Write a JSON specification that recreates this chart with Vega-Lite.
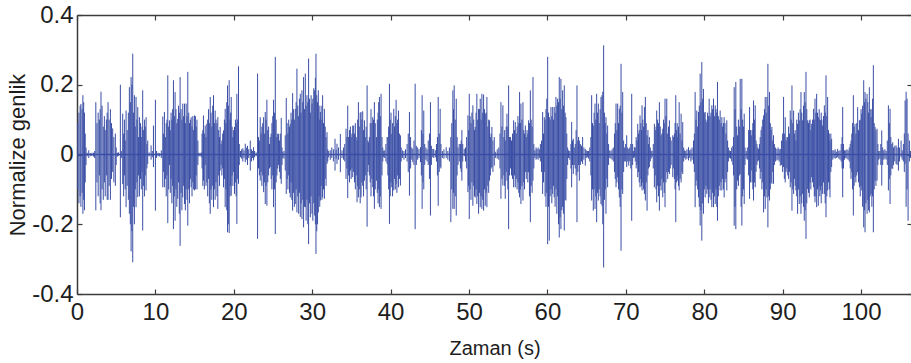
{
"$schema": "https://vega.github.io/schema/vega-lite/v6.json",
"width": 835, "height": 279,
"padding": {"left": 77, "top": 15, "right": 0, "bottom": 69},
"autosize": {"type": "none"},
"config": {"view": {"stroke": null}, "font": "Liberation Sans",
  "axis": {"grid": false, "domainColor": "#3c3c3c", "domainWidth": 1.5, "tickColor": "#3c3c3c", "tickWidth": 1.2, "tickSize": -5, "labelFontSize": 24, "labelColor": "#1e1e1e", "titleColor": "#1e1e1e", "titleFontWeight": "normal", "labelFlush": false, "labelOverlap": false}},
"datasets": {
"b": [{"t": 0, "a": 0}, {"t": 106.4, "a": 0}],
"w": [
{"t":0.1,"lo":-0.1,"hi":0.09},{"t":0.25,"lo":-0.14,"hi":0.12},{"t":0.4,"lo":-0.12,"hi":0.14},{"t":0.5,"lo":-0.15,"hi":0.145},{"t":0.65,"lo":-0.11,"hi":0.13},{"t":0.75,"lo":-0.17,"hi":0.17},{"t":0.85,"lo":-0.13,"hi":0.15},{"t":0.95,"lo":-0.16,"hi":0.12},{"t":1.05,"lo":-0.08,"hi":0.06},{"t":1.15,"lo":-0.03,"hi":0.02},
{"t":1.3,"lo":-0.005,"hi":0.005},{"t":1.5,"lo":-0.01,"hi":0.012},{"t":1.7,"lo":-0.005,"hi":0.004},{"t":1.9,"lo":-0.004,"hi":0.005},{"t":2.1,"lo":-0.006,"hi":0.005},{"t":2.25,"lo":-0.01,"hi":0.01},
{"t":2.4,"lo":-0.16,"hi":0.15},{"t":2.55,"lo":-0.08,"hi":0.09},{"t":2.7,"lo":-0.12,"hi":0.12},{"t":2.85,"lo":-0.06,"hi":0.1},{"t":2.95,"lo":-0.14,"hi":0.13},{"t":3.06,"lo":-0.16,"hi":0.18},{"t":3.2,"lo":-0.1,"hi":0.14},{"t":3.35,"lo":-0.13,"hi":0.08},{"t":3.49,"lo":-0.08,"hi":0.11},{"t":3.6,"lo":-0.12,"hi":0.07},{"t":3.75,"lo":-0.06,"hi":0.1},{"t":3.85,"lo":-0.13,"hi":0.12},{"t":3.96,"lo":-0.13,"hi":0.15},{"t":4.1,"lo":-0.09,"hi":0.1},{"t":4.26,"lo":-0.13,"hi":0.13},{"t":4.4,"lo":-0.07,"hi":0.09},{"t":4.55,"lo":-0.05,"hi":0.075},{"t":4.7,"lo":-0.08,"hi":0.05},{"t":4.89,"lo":-0.09,"hi":0.06},{"t":5.0,"lo":-0.03,"hi":0.02},
{"t":5.15,"lo":-0.006,"hi":0.005},{"t":5.3,"lo":-0.004,"hi":0.006},{"t":5.53,"lo":-0.18,"hi":0.2},{"t":5.65,"lo":-0.01,"hi":0.01},
{"t":5.83,"lo":-0.085,"hi":0.117},{"t":5.95,"lo":-0.12,"hi":0.06},{"t":6.05,"lo":-0.06,"hi":0.1},{"t":6.15,"lo":-0.1,"hi":0.04},{"t":6.26,"lo":-0.151,"hi":0.126},{"t":6.4,"lo":-0.09,"hi":0.07},{"t":6.55,"lo":-0.13,"hi":0.12},{"t":6.68,"lo":-0.17,"hi":0.193},{"t":6.8,"lo":-0.2,"hi":0.15},{"t":6.9,"lo":-0.278,"hi":0.222},{"t":7.0,"lo":-0.22,"hi":0.2},{"t":7.11,"lo":-0.309,"hi":0.289},{"t":7.2,"lo":-0.15,"hi":0.12},{"t":7.32,"lo":-0.2,"hi":0.17},{"t":7.43,"lo":-0.1,"hi":0.08},{"t":7.53,"lo":-0.151,"hi":0.165},{"t":7.65,"lo":-0.08,"hi":0.1},{"t":7.75,"lo":-0.122,"hi":0.136},{"t":7.85,"lo":-0.06,"hi":0.05},{"t":7.96,"lo":-0.12,"hi":0.107},{"t":8.1,"lo":-0.07,"hi":0.09},{"t":8.2,"lo":-0.1,"hi":0.05},{"t":8.3,"lo":-0.05,"hi":0.08},{"t":8.38,"lo":-0.218,"hi":0.184},{"t":8.5,"lo":-0.09,"hi":0.07},{"t":8.6,"lo":-0.12,"hi":0.1},{"t":8.7,"lo":-0.06,"hi":0.08},{"t":8.81,"lo":-0.103,"hi":0.107},{"t":8.92,"lo":-0.04,"hi":0.03},{"t":9.02,"lo":-0.027,"hi":0.04},
{"t":9.2,"lo":-0.005,"hi":0.006},{"t":9.45,"lo":-0.015,"hi":0.026},{"t":9.6,"lo":-0.008,"hi":0.01},{"t":9.75,"lo":-0.036,"hi":0.083},{"t":10.0,"lo":-0.161,"hi":0.157},{"t":10.15,"lo":-0.01,"hi":0.01},{"t":10.35,"lo":-0.005,"hi":0.005},{"t":10.55,"lo":-0.006,"hi":0.004},{"t":10.75,"lo":-0.01,"hi":0.012},
{"t":10.94,"lo":-0.094,"hi":0.109},{"t":11.05,"lo":-0.05,"hi":0.06},{"t":11.15,"lo":-0.094,"hi":0.122},{"t":11.27,"lo":-0.07,"hi":0.05},{"t":11.38,"lo":-0.12,"hi":0.09},{"t":11.48,"lo":-0.06,"hi":0.1},{"t":11.58,"lo":-0.197,"hi":0.227},{"t":11.69,"lo":-0.1,"hi":0.08},{"t":11.79,"lo":-0.03,"hi":0.098},{"t":11.9,"lo":-0.11,"hi":0.07},{"t":12.0,"lo":-0.07,"hi":0.12},{"t":12.1,"lo":-0.14,"hi":0.1},{"t":12.2,"lo":-0.09,"hi":0.13},{"t":12.3,"lo":-0.214,"hi":0.213},{"t":12.41,"lo":-0.12,"hi":0.11},{"t":12.51,"lo":-0.19,"hi":0.179},{"t":12.62,"lo":-0.1,"hi":0.13},{"t":12.73,"lo":-0.15,"hi":0.09},{"t":12.85,"lo":-0.127,"hi":0.102},{"t":12.95,"lo":-0.08,"hi":0.14},{"t":13.05,"lo":-0.17,"hi":0.12},{"t":13.15,"lo":-0.262,"hi":0.222},{"t":13.27,"lo":-0.11,"hi":0.13},{"t":13.38,"lo":-0.16,"hi":0.1},{"t":13.49,"lo":-0.123,"hi":0.146},{"t":13.6,"lo":-0.09,"hi":0.11},{"t":13.71,"lo":-0.142,"hi":0.146},{"t":13.82,"lo":-0.16,"hi":0.09},{"t":13.92,"lo":-0.1,"hi":0.146},{"t":14.03,"lo":-0.13,"hi":0.11},{"t":14.13,"lo":-0.204,"hi":0.237},{"t":14.25,"lo":-0.1,"hi":0.12},{"t":14.35,"lo":-0.14,"hi":0.09},{"t":14.46,"lo":-0.07,"hi":0.1},{"t":14.56,"lo":-0.094,"hi":0.107},{"t":14.67,"lo":-0.12,"hi":0.08},{"t":14.77,"lo":-0.08,"hi":0.11},{"t":14.88,"lo":-0.1,"hi":0.07},{"t":14.98,"lo":-0.103,"hi":0.112},
{"t":15.1,"lo":-0.1,"hi":0.11},{"t":15.2,"lo":-0.06,"hi":0.08},{"t":15.3,"lo":-0.1,"hi":0.1},{"t":15.42,"lo":-0.03,"hi":0.04},{"t":15.55,"lo":-0.006,"hi":0.005},{"t":15.7,"lo":-0.004,"hi":0.004},{"t":15.85,"lo":-0.008,"hi":0.006},
{"t":15.95,"lo":-0.04,"hi":0.06},{"t":16.05,"lo":-0.09,"hi":0.07},{"t":16.13,"lo":-0.075,"hi":0.112},{"t":16.24,"lo":-0.1,"hi":0.06},{"t":16.35,"lo":-0.03,"hi":0.083},{"t":16.45,"lo":-0.09,"hi":0.05},{"t":16.56,"lo":-0.08,"hi":0.088},{"t":16.67,"lo":-0.12,"hi":0.1},{"t":16.78,"lo":-0.07,"hi":0.13},{"t":16.88,"lo":-0.14,"hi":0.09},{"t":16.99,"lo":-0.17,"hi":0.165},{"t":17.1,"lo":-0.1,"hi":0.12},{"t":17.2,"lo":-0.13,"hi":0.08},{"t":17.31,"lo":-0.09,"hi":0.14},{"t":17.41,"lo":-0.151,"hi":0.17},{"t":17.52,"lo":-0.1,"hi":0.09},{"t":17.62,"lo":-0.13,"hi":0.126},{"t":17.73,"lo":-0.08,"hi":0.1},{"t":17.85,"lo":-0.12,"hi":0.09},{"t":17.96,"lo":-0.156,"hi":0.107},{"t":18.07,"lo":-0.06,"hi":0.07},{"t":18.17,"lo":-0.09,"hi":0.05},{"t":18.26,"lo":-0.046,"hi":0.079},
{"t":18.38,"lo":-0.03,"hi":0.03},{"t":18.48,"lo":-0.06,"hi":0.04},{"t":18.58,"lo":-0.04,"hi":0.06},{"t":18.69,"lo":-0.094,"hi":0.069},{"t":18.8,"lo":-0.07,"hi":0.1},{"t":18.9,"lo":-0.151,"hi":0.131},{"t":19.0,"lo":-0.1,"hi":0.09},{"t":19.1,"lo":-0.16,"hi":0.15},{"t":19.2,"lo":-0.223,"hi":0.198},{"t":19.3,"lo":-0.2,"hi":0.14},{"t":19.41,"lo":-0.225,"hi":0.213},{"t":19.52,"lo":-0.12,"hi":0.1},{"t":19.6,"lo":-0.09,"hi":0.12},{"t":19.67,"lo":-0.118,"hi":0.165},{"t":19.78,"lo":-0.06,"hi":0.08},{"t":19.88,"lo":-0.09,"hi":0.05},{"t":19.98,"lo":-0.05,"hi":0.07},{"t":20.09,"lo":-0.113,"hi":0.079},{"t":20.2,"lo":-0.08,"hi":0.1},{"t":20.3,"lo":-0.12,"hi":0.09},{"t":20.39,"lo":-0.199,"hi":0.174},{"t":20.5,"lo":-0.07,"hi":0.1},{"t":20.6,"lo":-0.084,"hi":0.253},{"t":20.7,"lo":-0.03,"hi":0.03},
{"t":20.85,"lo":-0.008,"hi":0.01},{"t":21.0,"lo":-0.012,"hi":0.015},{"t":21.15,"lo":-0.02,"hi":0.018},{"t":21.3,"lo":-0.01,"hi":0.012},{"t":21.46,"lo":-0.022,"hi":0.031},{"t":21.6,"lo":-0.015,"hi":0.02},{"t":21.75,"lo":-0.03,"hi":0.025},{"t":21.9,"lo":-0.01,"hi":0.015},{"t":22.1,"lo":-0.046,"hi":0.04},{"t":22.25,"lo":-0.02,"hi":0.015},{"t":22.4,"lo":-0.01,"hi":0.01},{"t":22.52,"lo":-0.017,"hi":0.021},{"t":22.65,"lo":-0.008,"hi":0.01},{"t":22.85,"lo":-0.005,"hi":0.006},
{"t":23.03,"lo":-0.242,"hi":0.232},{"t":23.15,"lo":-0.04,"hi":0.05},{"t":23.26,"lo":-0.06,"hi":0.04},{"t":23.37,"lo":-0.075,"hi":0.107},{"t":23.48,"lo":-0.05,"hi":0.06},{"t":23.58,"lo":-0.09,"hi":0.08},{"t":23.69,"lo":-0.06,"hi":0.09},{"t":23.8,"lo":-0.108,"hi":0.107},{"t":23.9,"lo":-0.08,"hi":0.06},{"t":24.01,"lo":-0.142,"hi":0.122},{"t":24.11,"lo":-0.09,"hi":0.1},{"t":24.22,"lo":-0.147,"hi":0.157},{"t":24.33,"lo":-0.08,"hi":0.07},{"t":24.44,"lo":-0.06,"hi":0.08},{"t":24.55,"lo":-0.04,"hi":0.03},{"t":24.65,"lo":-0.036,"hi":0.05},{"t":24.76,"lo":-0.07,"hi":0.06},{"t":24.86,"lo":-0.1,"hi":0.09},{"t":24.97,"lo":-0.06,"hi":0.11},{"t":25.07,"lo":-0.151,"hi":0.157},{"t":25.18,"lo":-0.1,"hi":0.12},{"t":25.29,"lo":-0.228,"hi":0.28},{"t":25.4,"lo":-0.08,"hi":0.1},{"t":25.5,"lo":-0.06,"hi":0.05},{"t":25.6,"lo":-0.04,"hi":0.06},{"t":25.71,"lo":-0.03,"hi":0.059},{"t":25.82,"lo":-0.05,"hi":0.04},{"t":25.93,"lo":-0.07,"hi":0.06},{"t":26.05,"lo":-0.084,"hi":0.105},{"t":26.15,"lo":-0.03,"hi":0.02},{"t":26.25,"lo":-0.01,"hi":0.008},{"t":26.4,"lo":-0.012,"hi":0.01},{"t":26.56,"lo":-0.046,"hi":0.055},
{"t":26.69,"lo":-0.113,"hi":0.162},{"t":26.8,"lo":-0.07,"hi":0.09},{"t":26.9,"lo":-0.1,"hi":0.06},{"t":27.0,"lo":-0.06,"hi":0.1},{"t":27.1,"lo":-0.11,"hi":0.08},{"t":27.2,"lo":-0.123,"hi":0.088},{"t":27.3,"lo":-0.08,"hi":0.12},{"t":27.4,"lo":-0.13,"hi":0.1},{"t":27.5,"lo":-0.161,"hi":0.176},{"t":27.6,"lo":-0.11,"hi":0.13},{"t":27.72,"lo":-0.15,"hi":0.1},{"t":27.84,"lo":-0.142,"hi":0.131},{"t":27.95,"lo":-0.1,"hi":0.15},{"t":28.05,"lo":-0.166,"hi":0.246},{"t":28.16,"lo":-0.12,"hi":0.14},{"t":28.27,"lo":-0.17,"hi":0.11},{"t":28.37,"lo":-0.11,"hi":0.16},{"t":28.48,"lo":-0.179,"hi":0.174},{"t":28.58,"lo":-0.14,"hi":0.12},{"t":28.69,"lo":-0.185,"hi":0.184},{"t":28.8,"lo":-0.13,"hi":0.15},{"t":28.9,"lo":-0.209,"hi":0.222},{"t":29.01,"lo":-0.15,"hi":0.13},{"t":29.12,"lo":-0.151,"hi":0.232},{"t":29.22,"lo":-0.19,"hi":0.14},{"t":29.33,"lo":-0.13,"hi":0.17},{"t":29.44,"lo":-0.2,"hi":0.15},{"t":29.54,"lo":-0.257,"hi":0.275},{"t":29.65,"lo":-0.14,"hi":0.16},{"t":29.76,"lo":-0.18,"hi":0.12},{"t":29.86,"lo":-0.12,"hi":0.17},{"t":29.97,"lo":-0.17,"hi":0.146},{"t":30.08,"lo":-0.19,"hi":0.16},{"t":30.2,"lo":-0.14,"hi":0.19},{"t":30.31,"lo":-0.175,"hi":0.184},
{"t":30.4,"lo":-0.2,"hi":0.22},{"t":30.48,"lo":-0.285,"hi":0.289},{"t":30.58,"lo":-0.22,"hi":0.17},{"t":30.68,"lo":-0.2,"hi":0.15},{"t":30.78,"lo":-0.166,"hi":0.184},{"t":30.88,"lo":-0.12,"hi":0.14},{"t":30.96,"lo":-0.15,"hi":0.1},{"t":31.04,"lo":-0.132,"hi":0.122},{"t":31.14,"lo":-0.09,"hi":0.14},{"t":31.24,"lo":-0.13,"hi":0.1},{"t":31.33,"lo":-0.123,"hi":0.17},{"t":31.44,"lo":-0.1,"hi":0.09},{"t":31.55,"lo":-0.127,"hi":0.131},{"t":31.66,"lo":-0.07,"hi":0.08},{"t":31.77,"lo":-0.09,"hi":0.05},{"t":31.89,"lo":-0.027,"hi":0.064},{"t":31.98,"lo":-0.02,"hi":0.015},
{"t":32.1,"lo":-0.008,"hi":0.01},{"t":32.3,"lo":-0.015,"hi":0.012},{"t":32.5,"lo":-0.01,"hi":0.02},{"t":32.7,"lo":-0.02,"hi":0.015},{"t":32.91,"lo":-0.046,"hi":0.045},{"t":33.05,"lo":-0.012,"hi":0.014},{"t":33.16,"lo":-0.027,"hi":0.031},{"t":33.35,"lo":-0.015,"hi":0.02},{"t":33.59,"lo":-0.051,"hi":0.059},{"t":33.8,"lo":-0.01,"hi":0.012},{"t":34.0,"lo":-0.015,"hi":0.02},{"t":34.15,"lo":-0.02,"hi":0.03},
{"t":34.31,"lo":-0.07,"hi":0.074},{"t":34.42,"lo":-0.04,"hi":0.05},{"t":34.53,"lo":-0.125,"hi":0.14},{"t":34.64,"lo":-0.06,"hi":0.05},{"t":34.76,"lo":-0.08,"hi":0.07},{"t":34.87,"lo":-0.046,"hi":0.08},{"t":34.97,"lo":-0.07,"hi":0.05},{"t":35.07,"lo":-0.04,"hi":0.06},{"t":35.17,"lo":-0.065,"hi":0.083},{"t":35.29,"lo":-0.05,"hi":0.083},{"t":35.4,"lo":-0.08,"hi":0.06},{"t":35.5,"lo":-0.1,"hi":0.09},{"t":35.61,"lo":-0.06,"hi":0.05},{"t":35.72,"lo":-0.137,"hi":0.04},{"t":35.8,"lo":-0.09,"hi":0.1},{"t":35.89,"lo":-0.123,"hi":0.15},{"t":36.0,"lo":-0.1,"hi":0.08},{"t":36.12,"lo":-0.14,"hi":0.12},{"t":36.23,"lo":-0.123,"hi":0.122},{"t":36.34,"lo":-0.08,"hi":0.1},{"t":36.44,"lo":-0.09,"hi":0.124},{"t":36.55,"lo":-0.12,"hi":0.07},{"t":36.66,"lo":-0.075,"hi":0.098},{"t":36.77,"lo":-0.06,"hi":0.05},{"t":36.88,"lo":-0.1,"hi":0.08},{"t":37.0,"lo":-0.207,"hi":0.198},
{"t":37.1,"lo":-0.05,"hi":0.04},{"t":37.19,"lo":-0.03,"hi":0.035},{"t":37.29,"lo":-0.06,"hi":0.05},{"t":37.4,"lo":-0.08,"hi":0.09},{"t":37.5,"lo":-0.12,"hi":0.13},{"t":37.61,"lo":-0.07,"hi":0.09},{"t":37.72,"lo":-0.094,"hi":0.107},{"t":37.82,"lo":-0.12,"hi":0.1},{"t":37.93,"lo":-0.156,"hi":0.15},{"t":38.04,"lo":-0.1,"hi":0.09},{"t":38.19,"lo":-0.075,"hi":0.05},{"t":38.3,"lo":-0.11,"hi":0.1},{"t":38.4,"lo":-0.14,"hi":0.12},{"t":38.48,"lo":-0.1,"hi":0.15},{"t":38.57,"lo":-0.151,"hi":0.165},{"t":38.68,"lo":-0.12,"hi":0.11},{"t":38.78,"lo":-0.156,"hi":0.174},{"t":38.9,"lo":-0.06,"hi":0.05},{"t":39.0,"lo":-0.02,"hi":0.02},{"t":39.12,"lo":-0.008,"hi":0.011},{"t":39.25,"lo":-0.01,"hi":0.012},{"t":39.4,"lo":-0.02,"hi":0.03},{"t":39.55,"lo":-0.027,"hi":0.05},
{"t":39.65,"lo":-0.06,"hi":0.05},{"t":39.75,"lo":-0.1,"hi":0.08},{"t":39.85,"lo":-0.199,"hi":0.203},{"t":39.95,"lo":-0.12,"hi":0.1},{"t":40.05,"lo":-0.08,"hi":0.12},{"t":40.15,"lo":-0.094,"hi":0.059},{"t":40.25,"lo":-0.12,"hi":0.09},{"t":40.4,"lo":-0.103,"hi":0.131},{"t":40.5,"lo":-0.07,"hi":0.08},{"t":40.6,"lo":-0.1,"hi":0.11},{"t":40.7,"lo":-0.084,"hi":0.157},{"t":40.8,"lo":-0.11,"hi":0.09},{"t":40.9,"lo":-0.06,"hi":0.1},{"t":41.0,"lo":-0.094,"hi":0.126},{"t":41.12,"lo":-0.07,"hi":0.06},{"t":41.25,"lo":-0.089,"hi":0.055},{"t":41.35,"lo":-0.02,"hi":0.02},
{"t":41.5,"lo":-0.01,"hi":0.012},{"t":41.7,"lo":-0.015,"hi":0.01},{"t":41.9,"lo":-0.01,"hi":0.015},{"t":42.1,"lo":-0.02,"hi":0.03},{"t":42.25,"lo":-0.05,"hi":0.06},{"t":42.4,"lo":-0.118,"hi":0.122},{"t":42.55,"lo":-0.04,"hi":0.05},{"t":42.7,"lo":-0.015,"hi":0.02},{"t":42.83,"lo":-0.022,"hi":0.016},{"t":42.98,"lo":-0.03,"hi":0.04},{"t":43.13,"lo":-0.214,"hi":0.203},{"t":43.28,"lo":-0.03,"hi":0.025},{"t":43.45,"lo":-0.015,"hi":0.02},{"t":43.62,"lo":-0.01,"hi":0.015},{"t":43.81,"lo":-0.022,"hi":0.021},{"t":43.92,"lo":-0.06,"hi":0.07},{"t":44.02,"lo":-0.156,"hi":0.17},{"t":44.12,"lo":-0.08,"hi":0.06},{"t":44.23,"lo":-0.1,"hi":0.126},{"t":44.35,"lo":-0.03,"hi":0.03},{"t":44.5,"lo":-0.015,"hi":0.02},{"t":44.65,"lo":-0.02,"hi":0.015},{"t":44.8,"lo":-0.03,"hi":0.04},{"t":44.95,"lo":-0.07,"hi":0.06},{"t":45.08,"lo":-0.175,"hi":0.15},{"t":45.2,"lo":-0.03,"hi":0.025},{"t":45.38,"lo":-0.008,"hi":0.016},
{"t":45.5,"lo":-0.01,"hi":0.016},{"t":45.7,"lo":-0.008,"hi":0.012},{"t":45.85,"lo":-0.02,"hi":0.03},{"t":45.97,"lo":-0.06,"hi":0.05},{"t":46.07,"lo":-0.147,"hi":0.165},{"t":46.2,"lo":-0.05,"hi":0.06},{"t":46.32,"lo":-0.036,"hi":0.131},{"t":46.42,"lo":-0.04,"hi":0.03},{"t":46.6,"lo":-0.01,"hi":0.01},{"t":46.8,"lo":-0.012,"hi":0.015},{"t":47.09,"lo":-0.01,"hi":0.021},{"t":47.3,"lo":-0.015,"hi":0.01},{"t":47.5,"lo":-0.02,"hi":0.02},
{"t":47.68,"lo":-0.194,"hi":0.05},{"t":47.8,"lo":-0.1,"hi":0.09},{"t":47.94,"lo":-0.156,"hi":0.184},{"t":48.02,"lo":-0.11,"hi":0.13},{"t":48.11,"lo":-0.156,"hi":0.198},{"t":48.24,"lo":-0.12,"hi":0.1},{"t":48.37,"lo":-0.175,"hi":0.16},{"t":48.48,"lo":-0.06,"hi":0.05},{"t":48.6,"lo":-0.03,"hi":0.02},{"t":48.75,"lo":-0.02,"hi":0.03},{"t":48.9,"lo":-0.04,"hi":0.03},{"t":49.0,"lo":-0.05,"hi":0.04},{"t":49.09,"lo":-0.075,"hi":0.07},{"t":49.2,"lo":-0.02,"hi":0.03},{"t":49.39,"lo":-0.005,"hi":0.016},{"t":49.55,"lo":-0.02,"hi":0.02},{"t":49.7,"lo":-0.04,"hi":0.05},
{"t":49.86,"lo":-0.108,"hi":0.112},{"t":49.95,"lo":-0.09,"hi":0.07},{"t":50.03,"lo":-0.185,"hi":0.174},{"t":50.14,"lo":-0.1,"hi":0.11},{"t":50.25,"lo":-0.13,"hi":0.09},{"t":50.37,"lo":-0.08,"hi":0.12},{"t":50.49,"lo":-0.147,"hi":0.141},{"t":50.6,"lo":-0.09,"hi":0.1},{"t":50.7,"lo":-0.12,"hi":0.07},{"t":50.79,"lo":-0.123,"hi":0.079},{"t":50.9,"lo":-0.1,"hi":0.12},{"t":51.0,"lo":-0.142,"hi":0.174},{"t":51.11,"lo":-0.12,"hi":0.1},{"t":51.22,"lo":-0.17,"hi":0.131},{"t":51.33,"lo":-0.11,"hi":0.13},{"t":51.43,"lo":-0.151,"hi":0.16},{"t":51.54,"lo":-0.12,"hi":0.1},{"t":51.64,"lo":-0.156,"hi":0.174},{"t":51.75,"lo":-0.13,"hi":0.12},{"t":51.86,"lo":-0.161,"hi":0.172},{"t":51.97,"lo":-0.1,"hi":0.13},{"t":52.07,"lo":-0.147,"hi":0.117},{"t":52.18,"lo":-0.11,"hi":0.12},{"t":52.28,"lo":-0.151,"hi":0.165},{"t":52.4,"lo":-0.09,"hi":0.08},{"t":52.51,"lo":-0.11,"hi":0.1},{"t":52.62,"lo":-0.075,"hi":0.098},{"t":52.72,"lo":-0.06,"hi":0.05},{"t":52.82,"lo":-0.04,"hi":0.06},{"t":52.92,"lo":-0.036,"hi":0.079},{"t":53.05,"lo":-0.05,"hi":0.04},{"t":53.22,"lo":-0.032,"hi":0.05},
{"t":53.4,"lo":-0.01,"hi":0.008},{"t":53.6,"lo":-0.012,"hi":0.015},{"t":53.8,"lo":-0.015,"hi":0.02},
{"t":53.95,"lo":-0.04,"hi":0.06},{"t":54.07,"lo":-0.127,"hi":0.15},{"t":54.2,"lo":-0.07,"hi":0.08},{"t":54.32,"lo":-0.089,"hi":0.141},{"t":54.45,"lo":-0.06,"hi":0.05},{"t":54.55,"lo":-0.09,"hi":0.07},{"t":54.62,"lo":-0.127,"hi":0.04},{"t":54.74,"lo":-0.05,"hi":0.08},{"t":54.84,"lo":-0.075,"hi":0.117},{"t":54.95,"lo":-0.1,"hi":0.08},{"t":55.05,"lo":-0.214,"hi":0.198},{"t":55.17,"lo":-0.06,"hi":0.05},{"t":55.3,"lo":-0.04,"hi":0.05},{"t":55.42,"lo":-0.06,"hi":0.04},
{"t":55.55,"lo":-0.07,"hi":0.06},{"t":55.69,"lo":-0.094,"hi":0.098},{"t":55.8,"lo":-0.06,"hi":0.07},{"t":55.9,"lo":-0.094,"hi":0.093},{"t":56.02,"lo":-0.07,"hi":0.06},{"t":56.13,"lo":-0.1,"hi":0.08},{"t":56.24,"lo":-0.08,"hi":0.11},{"t":56.35,"lo":-0.11,"hi":0.09},{"t":56.45,"lo":-0.123,"hi":0.179},{"t":56.55,"lo":-0.1,"hi":0.09},{"t":56.62,"lo":-0.142,"hi":0.146},{"t":56.75,"lo":-0.09,"hi":0.1},{"t":56.88,"lo":-0.132,"hi":0.15},{"t":56.98,"lo":-0.08,"hi":0.07},{"t":57.08,"lo":-0.1,"hi":0.06},{"t":57.18,"lo":-0.05,"hi":0.083},{"t":57.3,"lo":-0.07,"hi":0.05},{"t":57.4,"lo":-0.05,"hi":0.07},{"t":57.5,"lo":-0.08,"hi":0.06},{"t":57.6,"lo":-0.051,"hi":0.098},{"t":57.71,"lo":-0.12,"hi":0.09},{"t":57.82,"lo":-0.194,"hi":0.184},{"t":57.93,"lo":-0.09,"hi":0.1},{"t":58.05,"lo":-0.11,"hi":0.08},{"t":58.16,"lo":-0.075,"hi":0.222},{"t":58.27,"lo":-0.04,"hi":0.03},
{"t":58.4,"lo":-0.01,"hi":0.012},{"t":58.55,"lo":-0.015,"hi":0.02},{"t":58.67,"lo":-0.012,"hi":0.016},{"t":58.82,"lo":-0.015,"hi":0.02},{"t":58.97,"lo":-0.01,"hi":0.015},{"t":59.1,"lo":-0.02,"hi":0.03},
{"t":59.25,"lo":-0.05,"hi":0.04},{"t":59.39,"lo":-0.113,"hi":0.122},{"t":59.5,"lo":-0.08,"hi":0.06},{"t":59.6,"lo":-0.05,"hi":0.107},{"t":59.7,"lo":-0.12,"hi":0.1},{"t":59.82,"lo":-0.15,"hi":0.13},{"t":59.92,"lo":-0.11,"hi":0.16},{"t":60.03,"lo":-0.257,"hi":0.28},{"t":60.14,"lo":-0.15,"hi":0.12},{"t":60.24,"lo":-0.247,"hi":0.107},{"t":60.35,"lo":-0.12,"hi":0.1},{"t":60.45,"lo":-0.1,"hi":0.136},{"t":60.56,"lo":-0.14,"hi":0.11},{"t":60.67,"lo":-0.113,"hi":0.136},
{"t":60.77,"lo":-0.09,"hi":0.1},{"t":60.87,"lo":-0.123,"hi":0.136},{"t":60.98,"lo":-0.15,"hi":0.12},{"t":61.09,"lo":-0.1,"hi":0.165},{"t":61.2,"lo":-0.17,"hi":0.14},{"t":61.3,"lo":-0.12,"hi":0.16},{"t":61.41,"lo":-0.2,"hi":0.15},{"t":61.51,"lo":-0.238,"hi":0.222},{"t":61.62,"lo":-0.18,"hi":0.16},{"t":61.72,"lo":-0.214,"hi":0.217},{"t":61.83,"lo":-0.16,"hi":0.13},{"t":61.94,"lo":-0.15,"hi":0.184},{"t":62.04,"lo":-0.17,"hi":0.14},{"t":62.15,"lo":-0.218,"hi":0.198},{"t":62.26,"lo":-0.13,"hi":0.12},{"t":62.36,"lo":-0.132,"hi":0.107},{"t":62.47,"lo":-0.07,"hi":0.06},{"t":62.58,"lo":-0.03,"hi":0.02},{"t":62.7,"lo":-0.01,"hi":0.012},{"t":62.85,"lo":-0.015,"hi":0.01},
{"t":63.0,"lo":-0.04,"hi":0.03},{"t":63.09,"lo":-0.094,"hi":0.093},{"t":63.2,"lo":-0.03,"hi":0.04},{"t":63.3,"lo":-0.056,"hi":0.045},{"t":63.42,"lo":-0.03,"hi":0.02},{"t":63.55,"lo":-0.04,"hi":0.03},{"t":63.66,"lo":-0.06,"hi":0.07},{"t":63.77,"lo":-0.194,"hi":0.198},{"t":63.88,"lo":-0.05,"hi":0.04},{"t":63.97,"lo":-0.03,"hi":0.05},{"t":64.07,"lo":-0.075,"hi":0.04},{"t":64.2,"lo":-0.03,"hi":0.03},{"t":64.35,"lo":-0.02,"hi":0.025},{"t":64.49,"lo":-0.027,"hi":0.05},{"t":64.65,"lo":-0.015,"hi":0.02},{"t":64.83,"lo":-0.032,"hi":0.016},{"t":64.95,"lo":-0.01,"hi":0.012},{"t":65.1,"lo":-0.008,"hi":0.01},{"t":65.25,"lo":-0.012,"hi":0.01},{"t":65.4,"lo":-0.02,"hi":0.02},
{"t":65.54,"lo":-0.06,"hi":0.05},{"t":65.64,"lo":-0.132,"hi":0.17},{"t":65.75,"lo":-0.1,"hi":0.09},{"t":65.85,"lo":-0.161,"hi":0.083},{"t":65.96,"lo":-0.1,"hi":0.12},{"t":66.07,"lo":-0.156,"hi":0.146},{"t":66.17,"lo":-0.12,"hi":0.1},{"t":66.28,"lo":-0.194,"hi":0.174},{"t":66.38,"lo":-0.11,"hi":0.12},{"t":66.49,"lo":-0.132,"hi":0.146},{"t":66.6,"lo":-0.1,"hi":0.09},{"t":66.72,"lo":-0.12,"hi":0.13},{"t":66.83,"lo":-0.142,"hi":0.165},{"t":66.96,"lo":-0.147,"hi":0.17},{"t":67.06,"lo":-0.2,"hi":0.18},{"t":67.17,"lo":-0.324,"hi":0.313},{"t":67.27,"lo":-0.13,"hi":0.12},{"t":67.37,"lo":-0.1,"hi":0.09},{"t":67.47,"lo":-0.17,"hi":0.107},{"t":67.58,"lo":-0.07,"hi":0.06},{"t":67.68,"lo":-0.094,"hi":0.083},{"t":67.8,"lo":-0.03,"hi":0.03},
{"t":67.95,"lo":-0.01,"hi":0.012},{"t":68.1,"lo":-0.012,"hi":0.01},{"t":68.25,"lo":-0.015,"hi":0.015},{"t":68.4,"lo":-0.02,"hi":0.02},
{"t":68.55,"lo":-0.05,"hi":0.06},{"t":68.65,"lo":-0.07,"hi":0.09},{"t":68.75,"lo":-0.094,"hi":0.146},{"t":68.86,"lo":-0.08,"hi":0.07},{"t":68.96,"lo":-0.065,"hi":0.146},{"t":69.07,"lo":-0.1,"hi":0.09},{"t":69.17,"lo":-0.123,"hi":0.131},{"t":69.28,"lo":-0.15,"hi":0.14},{"t":69.39,"lo":-0.276,"hi":0.26},{"t":69.5,"lo":-0.1,"hi":0.12},{"t":69.6,"lo":-0.113,"hi":0.179},{"t":69.72,"lo":-0.05,"hi":0.04},{"t":69.85,"lo":-0.02,"hi":0.02},{"t":69.98,"lo":-0.02,"hi":0.03},{"t":70.11,"lo":-0.036,"hi":0.055},{"t":70.24,"lo":-0.02,"hi":0.02},{"t":70.37,"lo":-0.032,"hi":0.016},{"t":70.5,"lo":-0.02,"hi":0.02},{"t":70.63,"lo":-0.04,"hi":0.03},{"t":70.75,"lo":-0.19,"hi":0.174},{"t":70.87,"lo":-0.03,"hi":0.03},
{"t":71.0,"lo":-0.01,"hi":0.01},{"t":71.09,"lo":-0.008,"hi":0.021},{"t":71.2,"lo":-0.02,"hi":0.02},{"t":71.32,"lo":-0.04,"hi":0.05},{"t":71.42,"lo":-0.03,"hi":0.04},{"t":71.52,"lo":-0.065,"hi":0.088},{"t":71.62,"lo":-0.05,"hi":0.06},{"t":71.71,"lo":-0.08,"hi":0.07},{"t":71.81,"lo":-0.094,"hi":0.112},{"t":71.92,"lo":-0.07,"hi":0.09},{"t":72.0,"lo":-0.09,"hi":0.07},{"t":72.07,"lo":-0.103,"hi":0.141},{"t":72.17,"lo":-0.08,"hi":0.1},{"t":72.27,"lo":-0.1,"hi":0.08},{"t":72.37,"lo":-0.113,"hi":0.136},{"t":72.49,"lo":-0.132,"hi":0.165},{"t":72.6,"lo":-0.08,"hi":0.09},{"t":72.71,"lo":-0.161,"hi":0.055},{"t":72.82,"lo":-0.06,"hi":0.07},{"t":72.9,"lo":-0.04,"hi":0.03},{"t":73.0,"lo":-0.036,"hi":0.05},{"t":73.12,"lo":-0.02,"hi":0.02},{"t":73.22,"lo":-0.012,"hi":0.01},{"t":73.35,"lo":-0.008,"hi":0.011},
{"t":73.5,"lo":-0.04,"hi":0.03},{"t":73.64,"lo":-0.094,"hi":0.088},{"t":73.75,"lo":-0.06,"hi":0.07},{"t":73.85,"lo":-0.1,"hi":0.08},{"t":73.94,"lo":-0.137,"hi":0.126},{"t":74.05,"lo":-0.09,"hi":0.1},{"t":74.16,"lo":-0.12,"hi":0.09},{"t":74.28,"lo":-0.161,"hi":0.15},{"t":74.39,"lo":-0.09,"hi":0.08},{"t":74.5,"lo":-0.103,"hi":0.055},{"t":74.6,"lo":-0.07,"hi":0.06},{"t":74.71,"lo":-0.123,"hi":0.074},{"t":74.81,"lo":-0.08,"hi":0.1},{"t":74.9,"lo":-0.11,"hi":0.09},{"t":75.0,"lo":-0.151,"hi":0.16},{"t":75.11,"lo":-0.08,"hi":0.11},{"t":75.22,"lo":-0.051,"hi":0.16},{"t":75.34,"lo":-0.07,"hi":0.06},{"t":75.45,"lo":-0.05,"hi":0.08},{"t":75.56,"lo":-0.056,"hi":0.098},{"t":75.67,"lo":-0.04,"hi":0.05},{"t":75.78,"lo":-0.03,"hi":0.04},
{"t":75.99,"lo":-0.065,"hi":0.055},{"t":76.1,"lo":-0.04,"hi":0.05},{"t":76.2,"lo":-0.07,"hi":0.06},{"t":76.28,"lo":-0.1,"hi":0.09},{"t":76.37,"lo":-0.194,"hi":0.17},{"t":76.48,"lo":-0.08,"hi":0.07},{"t":76.55,"lo":-0.06,"hi":0.09},{"t":76.63,"lo":-0.075,"hi":0.05},{"t":76.72,"lo":-0.09,"hi":0.08},{"t":76.8,"lo":-0.103,"hi":0.15},{"t":76.92,"lo":-0.07,"hi":0.06},{"t":77.05,"lo":-0.08,"hi":0.117},{"t":77.16,"lo":-0.05,"hi":0.04},{"t":77.26,"lo":-0.056,"hi":0.093},{"t":77.38,"lo":-0.02,"hi":0.02},
{"t":77.5,"lo":-0.01,"hi":0.012},{"t":77.65,"lo":-0.015,"hi":0.01},{"t":77.8,"lo":-0.012,"hi":0.015},{"t":77.99,"lo":-0.017,"hi":0.021},{"t":78.15,"lo":-0.01,"hi":0.012},{"t":78.3,"lo":-0.02,"hi":0.015},{"t":78.45,"lo":-0.015,"hi":0.02},{"t":78.63,"lo":-0.027,"hi":0.04},
{"t":78.74,"lo":-0.05,"hi":0.06},{"t":78.84,"lo":-0.151,"hi":0.179},{"t":78.95,"lo":-0.09,"hi":0.1},{"t":79.05,"lo":-0.075,"hi":0.126},{"t":79.16,"lo":-0.1,"hi":0.08},{"t":79.27,"lo":-0.123,"hi":0.122},{"t":79.37,"lo":-0.15,"hi":0.14},{"t":79.48,"lo":-0.204,"hi":0.232},{"t":79.58,"lo":-0.16,"hi":0.15},{"t":79.69,"lo":-0.247,"hi":0.265},{"t":79.8,"lo":-0.14,"hi":0.16},{"t":79.9,"lo":-0.17,"hi":0.188},{"t":80.01,"lo":-0.1,"hi":0.12},{"t":80.12,"lo":-0.123,"hi":0.122},{"t":80.22,"lo":-0.09,"hi":0.1},{"t":80.33,"lo":-0.113,"hi":0.093},{"t":80.43,"lo":-0.1,"hi":0.12},{"t":80.53,"lo":-0.14,"hi":0.11},{"t":80.63,"lo":-0.123,"hi":0.16},{"t":80.74,"lo":-0.1,"hi":0.11},{"t":80.86,"lo":-0.13,"hi":0.12},{"t":80.97,"lo":-0.151,"hi":0.141},{"t":81.07,"lo":-0.11,"hi":0.13},{"t":81.18,"lo":-0.151,"hi":0.16},{"t":81.29,"lo":-0.12,"hi":0.11},{"t":81.4,"lo":-0.142,"hi":0.141},{"t":81.5,"lo":-0.1,"hi":0.13},{"t":81.6,"lo":-0.15,"hi":0.12},{"t":81.69,"lo":-0.19,"hi":0.208},{"t":81.8,"lo":-0.12,"hi":0.11},{"t":81.92,"lo":-0.09,"hi":0.1},{"t":82.03,"lo":-0.103,"hi":0.126},{"t":82.14,"lo":-0.08,"hi":0.09},{"t":82.25,"lo":-0.103,"hi":0.107},{"t":82.35,"lo":-0.07,"hi":0.08},{"t":82.45,"lo":-0.1,"hi":0.09},{"t":82.54,"lo":-0.123,"hi":0.107},{"t":82.65,"lo":-0.08,"hi":0.09},{"t":82.77,"lo":-0.07,"hi":0.06},{"t":82.88,"lo":-0.103,"hi":0.098},{"t":82.98,"lo":-0.05,"hi":0.04},{"t":83.08,"lo":-0.02,"hi":0.02},
{"t":83.2,"lo":-0.01,"hi":0.012},{"t":83.35,"lo":-0.012,"hi":0.01},{"t":83.5,"lo":-0.02,"hi":0.02},{"t":83.65,"lo":-0.03,"hi":0.025},
{"t":83.74,"lo":-0.06,"hi":0.05},{"t":83.82,"lo":-0.204,"hi":0.193},{"t":83.93,"lo":-0.15,"hi":0.13},{"t":84.03,"lo":-0.214,"hi":0.208},{"t":84.14,"lo":-0.1,"hi":0.08},{"t":84.25,"lo":-0.075,"hi":0.055},{"t":84.36,"lo":-0.09,"hi":0.1},{"t":84.48,"lo":-0.06,"hi":0.08},{"t":84.59,"lo":-0.056,"hi":0.217},{"t":84.7,"lo":-0.15,"hi":0.13},{"t":84.8,"lo":-0.204,"hi":0.217},{"t":84.9,"lo":-0.12,"hi":0.1},{"t":85.0,"lo":-0.1,"hi":0.08},{"t":85.1,"lo":-0.142,"hi":0.117},{"t":85.2,"lo":-0.03,"hi":0.02},{"t":85.35,"lo":-0.012,"hi":0.01},{"t":85.5,"lo":-0.015,"hi":0.02},
{"t":85.66,"lo":-0.06,"hi":0.07},{"t":85.78,"lo":-0.127,"hi":0.136},{"t":85.89,"lo":-0.08,"hi":0.07},{"t":86.0,"lo":-0.046,"hi":0.055},{"t":86.1,"lo":-0.08,"hi":0.07},{"t":86.2,"lo":-0.1,"hi":0.09},{"t":86.29,"lo":-0.132,"hi":0.155},{"t":86.4,"lo":-0.08,"hi":0.1},{"t":86.5,"lo":-0.094,"hi":0.141},{"t":86.61,"lo":-0.05,"hi":0.04},{"t":86.72,"lo":-0.03,"hi":0.03},{"t":86.83,"lo":-0.02,"hi":0.02},{"t":86.93,"lo":-0.017,"hi":0.016},{"t":87.04,"lo":-0.04,"hi":0.03},{"t":87.14,"lo":-0.07,"hi":0.05},{"t":87.25,"lo":-0.05,"hi":0.07},{"t":87.36,"lo":-0.1,"hi":0.08},{"t":87.46,"lo":-0.08,"hi":0.1},{"t":87.57,"lo":-0.166,"hi":0.112},{"t":87.68,"lo":-0.12,"hi":0.13},{"t":87.78,"lo":-0.156,"hi":0.165},{"t":87.9,"lo":-0.1,"hi":0.12},{"t":88.0,"lo":-0.123,"hi":0.165},{"t":88.12,"lo":-0.209,"hi":0.26},{"t":88.22,"lo":-0.12,"hi":0.14},{"t":88.33,"lo":-0.132,"hi":0.179},{"t":88.43,"lo":-0.1,"hi":0.09},{"t":88.53,"lo":-0.08,"hi":0.07},{"t":88.63,"lo":-0.084,"hi":0.079},
{"t":88.74,"lo":-0.05,"hi":0.04},{"t":88.84,"lo":-0.084,"hi":0.055},{"t":88.95,"lo":-0.03,"hi":0.03},{"t":89.1,"lo":-0.02,"hi":0.02},{"t":89.27,"lo":-0.017,"hi":0.016},{"t":89.42,"lo":-0.015,"hi":0.02},{"t":89.56,"lo":-0.02,"hi":0.015},{"t":89.7,"lo":-0.032,"hi":0.016},{"t":89.85,"lo":-0.03,"hi":0.04},
{"t":90.0,"lo":-0.05,"hi":0.06},{"t":90.12,"lo":-0.036,"hi":0.165},{"t":90.22,"lo":-0.07,"hi":0.06},{"t":90.33,"lo":-0.08,"hi":0.107},{"t":90.44,"lo":-0.05,"hi":0.04},{"t":90.55,"lo":-0.04,"hi":0.05},{"t":90.65,"lo":-0.06,"hi":0.05},{"t":90.76,"lo":-0.07,"hi":0.08},{"t":90.87,"lo":-0.05,"hi":0.06},{"t":90.97,"lo":-0.094,"hi":0.126},
{"t":91.08,"lo":-0.08,"hi":0.1},{"t":91.19,"lo":-0.161,"hi":0.198},{"t":91.3,"lo":-0.1,"hi":0.09},{"t":91.4,"lo":-0.113,"hi":0.126},{"t":91.5,"lo":-0.07,"hi":0.06},{"t":91.6,"lo":-0.09,"hi":0.07},{"t":91.7,"lo":-0.103,"hi":0.04},{"t":91.8,"lo":-0.12,"hi":0.1},{"t":91.91,"lo":-0.17,"hi":0.088},{"t":92.01,"lo":-0.1,"hi":0.12},{"t":92.12,"lo":-0.142,"hi":0.098},{"t":92.23,"lo":-0.12,"hi":0.13},{"t":92.34,"lo":-0.17,"hi":0.179},{"t":92.44,"lo":-0.14,"hi":0.12},{"t":92.55,"lo":-0.113,"hi":0.098},{"t":92.66,"lo":-0.15,"hi":0.14},{"t":92.76,"lo":-0.19,"hi":0.179},{"t":92.87,"lo":-0.16,"hi":0.15},{"t":92.98,"lo":-0.242,"hi":0.237},{"t":93.08,"lo":-0.14,"hi":0.13},{"t":93.19,"lo":-0.099,"hi":0.098},{"t":93.3,"lo":-0.11,"hi":0.09},{"t":93.4,"lo":-0.123,"hi":0.098},{"t":93.5,"lo":-0.08,"hi":0.1},{"t":93.6,"lo":-0.1,"hi":0.07},{"t":93.7,"lo":-0.065,"hi":0.088},{"t":93.82,"lo":-0.08,"hi":0.1},{"t":93.95,"lo":-0.094,"hi":0.131},{"t":94.04,"lo":-0.12,"hi":0.1},{"t":94.13,"lo":-0.137,"hi":0.16},{"t":94.24,"lo":-0.12,"hi":0.12},{"t":94.34,"lo":-0.151,"hi":0.174},{"t":94.45,"lo":-0.1,"hi":0.12},{"t":94.55,"lo":-0.147,"hi":0.107},{"t":94.66,"lo":-0.09,"hi":0.13},{"t":94.74,"lo":-0.12,"hi":0.1},{"t":94.81,"lo":-0.103,"hi":0.098},{"t":94.92,"lo":-0.14,"hi":0.12},{"t":95.0,"lo":-0.09,"hi":0.1},{"t":95.1,"lo":-0.113,"hi":0.083},{"t":95.21,"lo":-0.08,"hi":0.11},{"t":95.32,"lo":-0.113,"hi":0.141},{"t":95.43,"lo":-0.14,"hi":0.12},{"t":95.53,"lo":-0.18,"hi":0.227},{"t":95.64,"lo":-0.12,"hi":0.11},{"t":95.74,"lo":-0.103,"hi":0.165},{"t":95.85,"lo":-0.08,"hi":0.07},{"t":95.95,"lo":-0.1,"hi":0.06},{"t":96.04,"lo":-0.123,"hi":0.04},{"t":96.15,"lo":-0.05,"hi":0.06},{"t":96.25,"lo":-0.036,"hi":0.045},
{"t":96.4,"lo":-0.015,"hi":0.012},{"t":96.55,"lo":-0.01,"hi":0.012},{"t":96.7,"lo":-0.012,"hi":0.015},{"t":96.85,"lo":-0.01,"hi":0.008},{"t":97.02,"lo":-0.008,"hi":0.016},{"t":97.17,"lo":-0.012,"hi":0.01},{"t":97.32,"lo":-0.015,"hi":0.012},{"t":97.47,"lo":-0.02,"hi":0.03},{"t":97.58,"lo":-0.04,"hi":0.05},{"t":97.66,"lo":-0.123,"hi":0.136},{"t":97.76,"lo":-0.04,"hi":0.03},{"t":97.9,"lo":-0.015,"hi":0.012},{"t":98.05,"lo":-0.01,"hi":0.012},{"t":98.2,"lo":-0.012,"hi":0.015},{"t":98.35,"lo":-0.015,"hi":0.012},{"t":98.5,"lo":-0.02,"hi":0.02},
{"t":98.62,"lo":-0.04,"hi":0.03},{"t":98.72,"lo":-0.07,"hi":0.04},{"t":98.82,"lo":-0.05,"hi":0.06},{"t":98.92,"lo":-0.1,"hi":0.09},{"t":99.02,"lo":-0.175,"hi":0.17},{"t":99.12,"lo":-0.09,"hi":0.08},{"t":99.23,"lo":-0.065,"hi":0.088},{"t":99.34,"lo":-0.08,"hi":0.06},{"t":99.45,"lo":-0.06,"hi":0.09},{"t":99.57,"lo":-0.051,"hi":0.136},{"t":99.68,"lo":-0.08,"hi":0.07},{"t":99.79,"lo":-0.094,"hi":0.098},{"t":99.9,"lo":-0.12,"hi":0.1},{"t":100.0,"lo":-0.09,"hi":0.13},{"t":100.09,"lo":-0.103,"hi":0.117},{"t":100.2,"lo":-0.15,"hi":0.14},{"t":100.34,"lo":-0.209,"hi":0.213},{"t":100.43,"lo":-0.16,"hi":0.15},{"t":100.51,"lo":-0.223,"hi":0.179},{"t":100.62,"lo":-0.14,"hi":0.16},{"t":100.77,"lo":-0.17,"hi":0.174},{"t":100.87,"lo":-0.13,"hi":0.15},{"t":100.96,"lo":-0.16,"hi":0.12},{"t":101.06,"lo":-0.166,"hi":0.193},{"t":101.17,"lo":-0.12,"hi":0.13},{"t":101.28,"lo":-0.113,"hi":0.107},{"t":101.38,"lo":-0.15,"hi":0.13},{"t":101.47,"lo":-0.12,"hi":0.16},{"t":101.57,"lo":-0.223,"hi":0.256},{"t":101.68,"lo":-0.1,"hi":0.09},{"t":101.79,"lo":-0.075,"hi":0.079},{"t":101.9,"lo":-0.09,"hi":0.07},{"t":102.04,"lo":-0.075,"hi":0.074},{"t":102.15,"lo":-0.03,"hi":0.03},{"t":102.25,"lo":-0.015,"hi":0.01},
{"t":102.4,"lo":-0.012,"hi":0.01},{"t":102.52,"lo":-0.03,"hi":0.03},{"t":102.64,"lo":-0.089,"hi":0.069},{"t":102.76,"lo":-0.03,"hi":0.02},{"t":102.9,"lo":-0.015,"hi":0.012},{"t":103.05,"lo":-0.012,"hi":0.015},{"t":103.2,"lo":-0.015,"hi":0.01},{"t":103.35,"lo":-0.03,"hi":0.04},
{"t":103.49,"lo":-0.103,"hi":0.141},{"t":103.6,"lo":-0.07,"hi":0.09},{"t":103.7,"lo":-0.142,"hi":0.131},{"t":103.8,"lo":-0.06,"hi":0.05},{"t":103.92,"lo":-0.04,"hi":0.03},{"t":104.04,"lo":-0.041,"hi":0.035},{"t":104.15,"lo":-0.03,"hi":0.02},{"t":104.3,"lo":-0.02,"hi":0.025},{"t":104.47,"lo":-0.027,"hi":0.026},{"t":104.6,"lo":-0.03,"hi":0.02},{"t":104.77,"lo":-0.046,"hi":0.045},{"t":104.9,"lo":-0.02,"hi":0.02},{"t":105.11,"lo":-0.008,"hi":0.04},{"t":105.25,"lo":-0.015,"hi":0.012},{"t":105.4,"lo":-0.02,"hi":0.03},{"t":105.52,"lo":-0.05,"hi":0.06},{"t":105.62,"lo":-0.027,"hi":0.155},{"t":105.75,"lo":-0.15,"hi":0.18},{"t":105.87,"lo":-0.1,"hi":0.16},{"t":106.0,"lo":-0.19,"hi":0.06},{"t":106.17,"lo":-0.02,"hi":0.04},{"t":106.3,"lo":-0.01,"hi":0.01}
]},
"layer": [
{"data": {"name": "b"}, "mark": {"type": "line", "color": "#3a4ea5", "strokeWidth": 1.6},
 "encoding": {
  "x": {"field": "t", "type": "quantitative", "scale": {"domain": [0, 106.5], "nice": false, "zero": false},
        "axis": {"orient": "bottom", "values": [0,10,20,30,40,50,60,70,80,90,100], "labelPadding": 11, "title": "Zaman (s)", "titleFontSize": 20, "titlePadding": 14}},
  "y": {"field": "a", "type": "quantitative", "scale": {"domain": [-0.4, 0.4], "nice": false},
        "axis": {"orient": "left", "values": [-0.4,-0.2,0,0.2,0.4], "labelPadding": 9, "labelExpr": "datum.value == 0 ? '0' : (datum.value < 0 ? '-' : '') + format(abs(datum.value), '.1f')", "title": "Normalize genlik", "titleFontSize": 22, "titlePadding": 2}}
 }},
{"data": {"name": "w"}, "mark": {"type": "rule", "color": "#3a4ea5", "strokeWidth": 1.0},
 "encoding": {
  "x": {"field": "t", "type": "quantitative", "axis": {"orient": "top", "values": [0,10,20,30,40,50,60,70,80,90,100], "labels": false, "title": null}},
  "y": {"field": "lo", "type": "quantitative", "axis": {"orient": "right", "values": [-0.4,-0.2,0,0.2,0.4], "labels": false, "title": null}},
  "y2": {"field": "hi"}
 }}
],
"resolve": {"axis": {"x": "independent", "y": "independent"}}
}
